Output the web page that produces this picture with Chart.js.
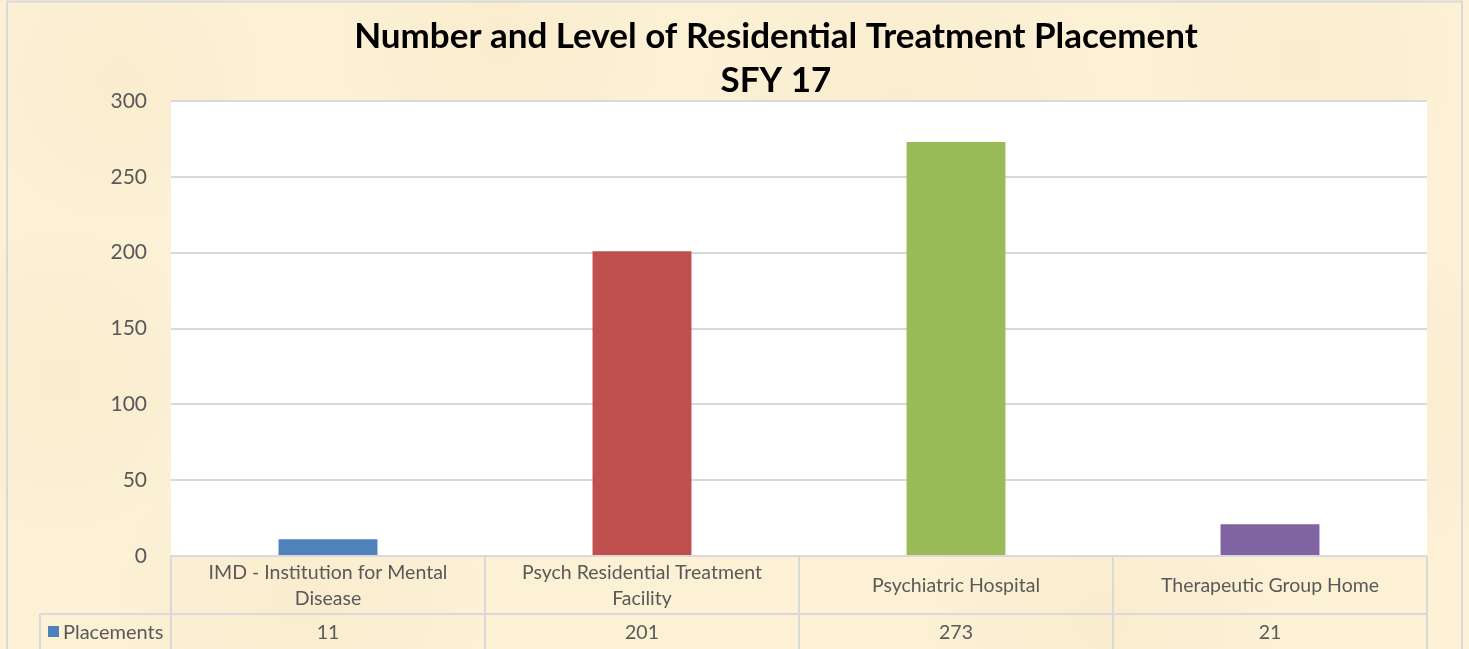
<!DOCTYPE html>
<html>
<head>
<meta charset="utf-8">
<script src="https://cdn.jsdelivr.net/npm/chart.js@4"></script>
<style>
html,body{margin:0;padding:0;background:#fcf0d5;}
#wrap{width:1469px;height:649px;position:relative;}
</style>
</head>
<body>
<div id="wrap"><canvas id="placementChart" width="1469" height="649"></canvas></div>
<script>
const titleLines = ["Number and Level of Residential Treatment Placement", "SFY 17"]
const categories = [
  ["IMD - Institution for Mental", "Disease"],
  ["Psych Residential Treatment", "Facility"],
  ["Psychiatric Hospital"],
  ["Therapeutic Group Home"]
]
const seriesName = "Placements"
const placements = [11, 201, 273, 21]
const barColors = ["#4f81bd", "#c0504d", "#9bbb59", "#8064a2"]
const yTicks = [0, 50, 100, 150, 200, 250, 300]

const font = "Lato, 'Open Sans', sans-serif"

// parchment background, frame, white plot area
const backdrop = {
  id: "backdrop",
  beforeDraw(chart){
    const c = chart.ctx
    const a = chart.chartArea
    c.save()
    c.fillStyle = "#fcf0d5"
    c.fillRect(0, 0, chart.width, chart.height)
    // a few soft blotches for the paper look
    const spots = [[120,80,140],[500,40,160],[900,120,200],[1300,60,150],[300,600,180],[1100,620,170],[1400,400,140],[60,380,150]]
    spots.forEach(s => {
      const g = c.createRadialGradient(s[0], s[1], 0, s[0], s[1], s[2])
      g.addColorStop(0, "rgba(242,226,188,0.25)")
      g.addColorStop(1, "rgba(242,226,188,0)")
      c.fillStyle = g
      c.fillRect(s[0]-s[2], s[1]-s[2], s[2]*2, s[2]*2)
    })
    c.strokeStyle = "#d9d9d9"
    c.lineWidth = 2
    c.strokeRect(7, 1.5, 1455, chart.height + 10)
    c.fillStyle = "#ffffff"
    c.fillRect(a.left, a.top, a.right - a.left, a.bottom - a.top)
    c.restore()
  }
}

// title and data table under the plot
const titleAndTable = {
  id: "titleAndTable",
  afterDraw(chart){
    const c = chart.ctx
    const a = chart.chartArea
    const x = chart.scales.x
    const n = categories.length
    const step = (a.right - a.left) / n
    const rowTop = a.bottom
    const rowMid = rowTop + 58
    const rowEnd = chart.height + 5
    c.save()

    c.fillStyle = "#000000"
    c.font = "bold 35px " + font
    c.textAlign = "center"
    c.textBaseline = "middle"
    c.fillText(titleLines[0], 776, 37)
    c.fillText(titleLines[1], 776, 81)

    c.strokeStyle = "#d9d9d9"
    c.lineWidth = 2
    c.beginPath()
    c.moveTo(a.left, rowTop); c.lineTo(a.right, rowTop)
    c.moveTo(40, rowMid); c.lineTo(a.right, rowMid)
    for (let i = 0; i <= n; i++) {
      const lx = a.left + step * i
      c.moveTo(lx, rowTop); c.lineTo(lx, rowEnd)
    }
    c.moveTo(40, rowMid); c.lineTo(40, rowEnd)
    c.stroke()

    c.fillStyle = "#595959"
    c.font = "19.5px " + font
    categories.forEach((lines, i) => {
      const cx = x.getPixelForValue(i)
      const cy = rowTop + 30
      lines.forEach((t, j) => {
        c.fillText(t, cx, cy + (j - (lines.length - 1) / 2) * 26)
      })
      c.fillText(String(placements[i]), cx, rowMid + 19)
    })

    c.fillStyle = barColors[0]
    c.fillRect(48, rowMid + 12, 11, 11)
    c.fillStyle = "#595959"
    c.textAlign = "left"
    c.font = "20px " + font
    c.fillText(seriesName, 63, rowMid + 19)
    c.restore()
  }
}

const ctx = document.getElementById("placementChart")

new Chart(ctx, {
  type: "bar",
  data: {
    labels: categories.map(l => l.join(" ")),
    datasets: [
      {
        label: seriesName,
        data: placements,
        backgroundColor: barColors,
        categoryPercentage: 1,
        barPercentage: 0.315
      }
    ]
  },
  options: {
    responsive: false,
    animation: false,
    layout: {
      padding: {top: 101, bottom: 93, right: 42, left: 0}
    },
    plugins: {
      legend: {display: false},
      title: {display: false},
      tooltip: {enabled: false}
    },
    scales: {
      x: {
        display: false
      },
      y: {
        min: 0,
        max: 300,
        afterBuildTicks(scale){
          scale.ticks = yTicks.map(v => ({value: v}))
        },
        afterFit(scale){
          scale.width = 171
        },
        border: {display: false},
        grid: {
          color: "#d9d9d9",
          lineWidth: 2,
          drawTicks: false
        },
        ticks: {
          padding: 24,
          color: "#595959",
          font: {family: font, size: 21}
        }
      }
    }
  },
  plugins: [backdrop, titleAndTable]
})
</script>
</body>
</html>
